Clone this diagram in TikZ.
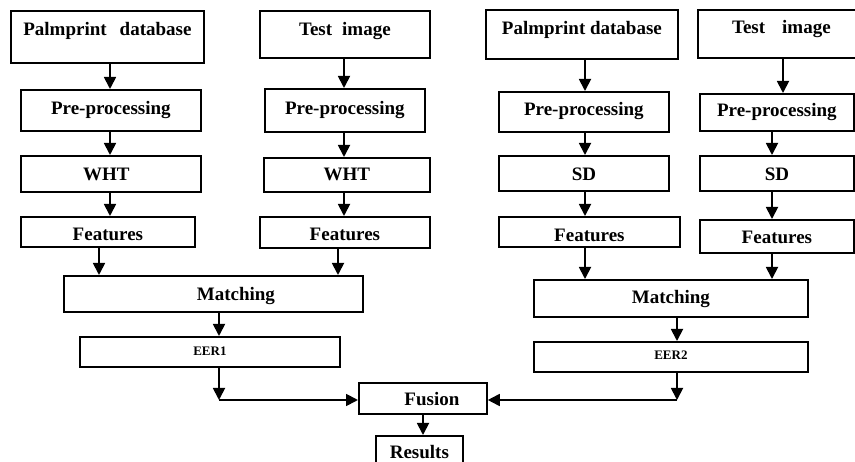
\documentclass[tikz,border=0pt]{standalone}
\usepackage{fontspec}
\setmainfont{Liberation Serif}
\usetikzlibrary{arrows.meta,calc}
\begin{document}
\begin{tikzpicture}[x=1pt,y=-1pt,
  box/.style={draw, line width=1.8pt, inner sep=0pt, anchor=north west,
    font=\bfseries\fontsize{19}{19}\selectfont},
  smallbox/.style={box, font=\bfseries\fontsize{13}{13}\selectfont},
  arr/.style={line width=1.8pt, -{Triangle[length=12pt,width=12pt]}}]
\useasboundingbox (0,0) rectangle (855,462);

% ---- left pair (WHT) ----
\node[box, minimum width=193pt, text height=25pt, text depth=27pt] (db1) at (10,10) {Palmprint\hspace{13pt}database};
\node[box, minimum width=170pt, text height=25pt, text depth=22pt] (ti1) at (259,10) {Test\hspace{10pt}image};
\node[box, minimum width=180pt, text height=25pt, text depth=16pt] (pp1) at (20,89) {Pre-processing};
\node[box, minimum width=160pt, text height=26pt, text depth=17pt] (pp2) at (264,88) {Pre-processing};
\node[box, minimum width=180pt, text height=25pt, text depth=11pt] (wht1) at (20,155) {WHT\hspace*{9pt}};
\node[box, minimum width=166pt, text height=23pt, text depth=11pt] (wht2) at (263,157) {WHT};
\node[box, minimum width=174pt, text height=24pt, text depth=6pt] (ft1) at (20,216) {Features};
\node[box, minimum width=170pt, text height=24pt, text depth=7pt] (ft2) at (259,216) {Features};
\node[box, minimum width=299pt, text height=25pt, text depth=11pt] (m1) at (63,275) {\hspace*{45pt}Matching};
\node[smallbox, minimum width=260pt, text height=19pt, text depth=11pt] (eer1) at (79,336) {EER1};

% ---- right pair (SD) ----
\node[box, minimum width=192pt, text height=25pt, text depth=24pt] (db2) at (485,9) {Palmprint database};
\node[box, minimum width=161pt, text height=24pt, text depth=24pt] (ti2) at (697,9) {\hspace*{6pt}Test\hspace{17pt}image};
\node[box, minimum width=170pt, text height=24pt, text depth=16pt] (pp3) at (498,91) {Pre-processing};
\node[box, minimum width=154pt, text height=23pt, text depth=14pt] (pp4) at (699,93) {Pre-processing};
\node[box, minimum width=170pt, text height=25pt, text depth=10pt] (sd1) at (498,155) {SD};
\node[box, minimum width=154pt, text height=25pt, text depth=10pt] (sd2) at (699,155) {SD};
\node[box, minimum width=181pt, text height=25pt, text depth=5pt] (ft3) at (498,216) {Features};
\node[box, minimum width=154pt, text height=24pt, text depth=9pt] (ft4) at (699,219) {Features};
\node[box, minimum width=274pt, text height=24pt, text depth=13pt] (m2) at (533,279) {Matching};
\node[smallbox, minimum width=274pt, text height=18pt, text depth=12pt] (eer2) at (533,341) {EER2};

% ---- fusion ----
\node[box, minimum width=128pt, text height=23pt, text depth=8pt] (fus) at (358,382) {\hspace*{18pt}Fusion};
\node[box, minimum width=87pt, text height=23pt, text depth=14pt] (res) at (375,435) {Results};

% ---- x positions of the arrows ----
\coordinate (xa) at (110,0);
\coordinate (xb) at (344,0);
\coordinate (xc) at (99,0);
\coordinate (xd) at (338,0);
\coordinate (xe) at (219,0);
\coordinate (xf) at (585,0);
\coordinate (xg) at (783,0);
\coordinate (xh) at (772,0);
\coordinate (xi) at (677,0);
\coordinate (xj) at (423,0);
\coordinate (yk) at (0,400);
\coordinate (c1) at (xe |- yk);
\coordinate (c2) at (xi |- yk);

% ---- connectors ----
\draw[arr] (db1.south -| xa) -- (pp1.north -| xa);
\draw[arr] (pp1.south -| xa) -- (wht1.north -| xa);
\draw[arr] (wht1.south -| xa) -- (ft1.north -| xa);
\draw[arr] (ti1.south -| xb) -- (pp2.north -| xb);
\draw[arr] (pp2.south -| xb) -- (wht2.north -| xb);
\draw[arr] (wht2.south -| xb) -- (ft2.north -| xb);
\draw[arr] (ft1.south -| xc) -- (m1.north -| xc);
\draw[arr] (ft2.south -| xd) -- (m1.north -| xd);
\draw[arr] (m1.south -| xe) -- (eer1.north -| xe);
\draw[arr] (eer1.south -| xe) -- (c1);
\draw[arr] (c1) -- (c1 -| fus.west);

\draw[arr] (db2.south -| xf) -- (pp3.north -| xf);
\draw[arr] (pp3.south -| xf) -- (sd1.north -| xf);
\draw[arr] (sd1.south -| xf) -- (ft3.north -| xf);
\draw[arr] (ti2.south -| xg) -- (pp4.north -| xg);
\draw[arr] (pp4.south -| xh) -- (sd2.north -| xh);
\draw[arr] (sd2.south -| xh) -- (ft4.north -| xh);
\draw[arr] (ft3.south -| xf) -- (m2.north -| xf);
\draw[arr] (ft4.south -| xh) -- (m2.north -| xh);
\draw[arr] (m2.south -| xi) -- (eer2.north -| xi);
\draw[arr] (eer2.south -| xi) -- (c2);
\draw[arr] (c2) -- (c2 -| fus.east);

\draw[arr] (fus.south -| xj) -- (res.north -| xj);
\end{tikzpicture}
\end{document}
